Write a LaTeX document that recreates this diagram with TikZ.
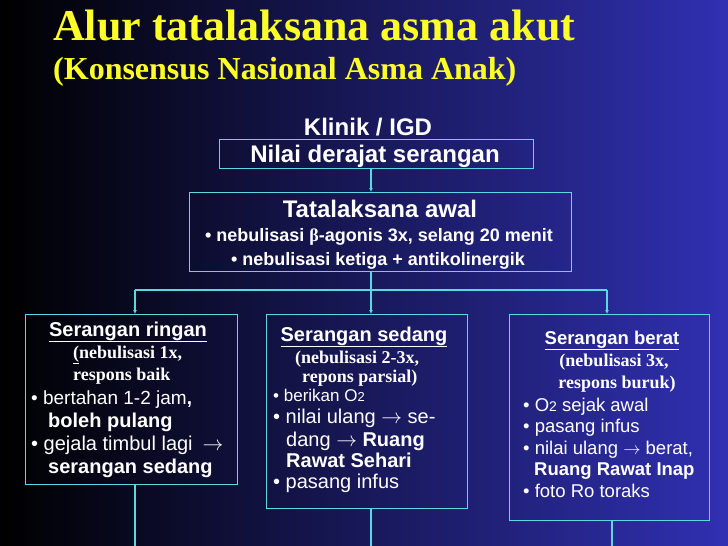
\documentclass[tikz,border=0pt]{standalone}
\usepackage{fontspec}
\setmainfont{Liberation Sans}
\newfontfamily\tnr{Liberation Serif}
\usetikzlibrary{arrows.meta}
\definecolor{bgA}{RGB}{0,0,0}
\definecolor{bgB}{RGB}{24,24,105}
\definecolor{bgC}{RGB}{48,48,178}
\definecolor{ttl}{RGB}{255,255,40}
\definecolor{cy}{RGB}{95,215,225}
\tikzset{
  boxst/.style={draw=cy, line width=1.3pt, inner sep=0pt},
  conn/.style={draw=cy, line width=2pt},
  tipc/.style={-{Latex[length=4pt,width=4pt]}},
  txt/.style={text=white, inner sep=0pt},
  hd/.style={txt, font=\bfseries\fontsize{20}{24}\selectfont},
  tn/.style={txt, font=\tnr\bfseries\fontsize{18}{21}\selectfont},
  bl/.style={txt, font=\fontsize{20}{24}\selectfont, anchor=base west},
  blb/.style={bl, font=\bfseries\fontsize{20}{24}\selectfont},
  br/.style={txt, font=\fontsize{18.5}{22}\selectfont, anchor=base west},
}
\begin{document}
\begin{tikzpicture}[x=1pt,y=-1pt]
\useasboundingbox (0,0) rectangle (728,546);
\shade[left color=bgA, middle color=bgB, right color=bgC] (0,0) rectangle (728,546);
% title
\node[txt, text=ttl, anchor=base west, font=\tnr\bfseries\fontsize{44}{48}\selectfont] (title) at (53,40) {Alur tatalaksana asma akut};
\node[txt, text=ttl, anchor=base west, font=\tnr\bfseries\fontsize{32}{36}\selectfont] (subtitle) at (53,79) {(Konsensus Nasional Asma Anak)};
% top
\node[txt, anchor=base, font=\bfseries\fontsize{24}{28}\selectfont] (klinik) at (368,135) {Klinik / IGD};
\node[boxst, minimum width=314pt, minimum height=29pt, anchor=north west] (nilai) at (219,139) {};
\node[txt, anchor=base, font=\bfseries\fontsize{24}{28}\selectfont] (nilait) at (375,162) {Nilai derajat serangan};
\node[boxst, minimum width=382pt, minimum height=79pt, anchor=north west] (tata) at (189,192) {};
\node[txt, anchor=base, font=\bfseries\fontsize{24}{28}\selectfont] (tatat) at (380,217) {Tatalaksana awal};
\node[txt, anchor=base, font=\bfseries\fontsize{18}{21}\selectfont] (tata1) at (379,241) {• nebulisasi {\tnr β}-agonis 3x, selang 20 menit};
\node[txt, anchor=base, font=\bfseries\fontsize{18}{21}\selectfont] (tata2) at (378,265) {• nebulisasi ketiga + antikolinergik};
% boxes
\node[boxst, minimum width=212pt, minimum height=170pt, anchor=north west] (ringan) at (25,314) {};
\node[boxst, minimum width=201pt, minimum height=194pt, anchor=north west] (sedang) at (266,314) {};
\node[boxst, minimum width=200pt, minimum height=206pt, anchor=north west] (berat) at (509,314) {};
% connectors
\coordinate (j) at (371,290);
\coordinate (jl) at (135,290);
\coordinate (jr) at (607,290);
\coordinate (el) at (135,546);
\coordinate (em) at (371,546);
\coordinate (er) at (612,546);
\draw[conn, tipc] (nilai.south -| j) -- (tata.north -| j);
\draw[conn] (tata.south -| j) -- (j);
\draw[conn] (jl) -- (jr);
\draw[conn, tipc] (jl) -- (jl |- ringan.north);
\draw[conn, tipc] (j) -- (j |- sedang.north);
\draw[conn, tipc] (jr) -- (jr |- berat.north);
\draw[conn] (ringan.south -| el) -- (el);
\draw[conn] (sedang.south -| em) -- (em);
\draw[conn] (berat.south -| er) -- (er);
% ringan text
\node[hd, anchor=base] (r0) at (128,336) {\underline{Serangan ringan}};
\node[tn, anchor=base west] (r1) at (73,358) {\underline{(}nebulisasi 1x,};
\node[tn, anchor=base west] (r2) at (73,380) {respons baik};
\node[bl, font=\fontsize{19}{23}\selectfont] (r3) at (31,404) {• bertahan 1-2 jam\textbf{,}};
\node[blb] (r4) at (48,427) {boleh pulang};
\node[bl] (r5) at (31,450) {• gejala timbul lagi\enspace$\rightarrow$};
\node[blb] (r6) at (48,473) {serangan sedang};
% sedang text
\node[hd, anchor=base] (s0) at (364,341) {\underline{Serangan sedang}};
\node[tn, anchor=base west] (s1) at (295,363) {(nebulisasi 2-3x,};
\node[tn, anchor=base west] (s2) at (302,382) {repons parsial)};
\node[bl, font=\fontsize{17}{20}\selectfont] (s3) at (273,401) {• berikan O{\fontsize{13}{15}\selectfont 2}};
\node[bl] (s4) at (273,423) {• nilai ulang $\rightarrow$ se-};
\node[bl] (s5) at (286,446) {dang $\rightarrow$ \textbf{Ruang}};
\node[blb] (s6) at (286,467) {Rawat Sehari};
\node[bl] (s7) at (273,488) {• pasang infus};
% berat text
\node[hd, anchor=base, font=\bfseries\fontsize{18.5}{22}\selectfont] (b0) at (612,344) {\underline{Serangan berat}};
\node[tn, anchor=base] (b1) at (614,366) {(nebulisasi 3x,};
\node[tn, anchor=base] (b2) at (617,388) {respons buruk)};
\node[br] (b3) at (523,411) {• O{\fontsize{14}{16}\selectfont 2} sejak awal};
\node[br] (b4) at (523,432) {• pasang infus};
\node[br] (b5) at (523,454) {• nilai ulang $\rightarrow$ berat,};
\node[br, font=\bfseries\fontsize{18.5}{22}\selectfont] (b6) at (534,475) {Ruang Rawat Inap};
\node[br] (b7) at (523,497) {• foto Ro toraks};
\end{tikzpicture}
\end{document}
